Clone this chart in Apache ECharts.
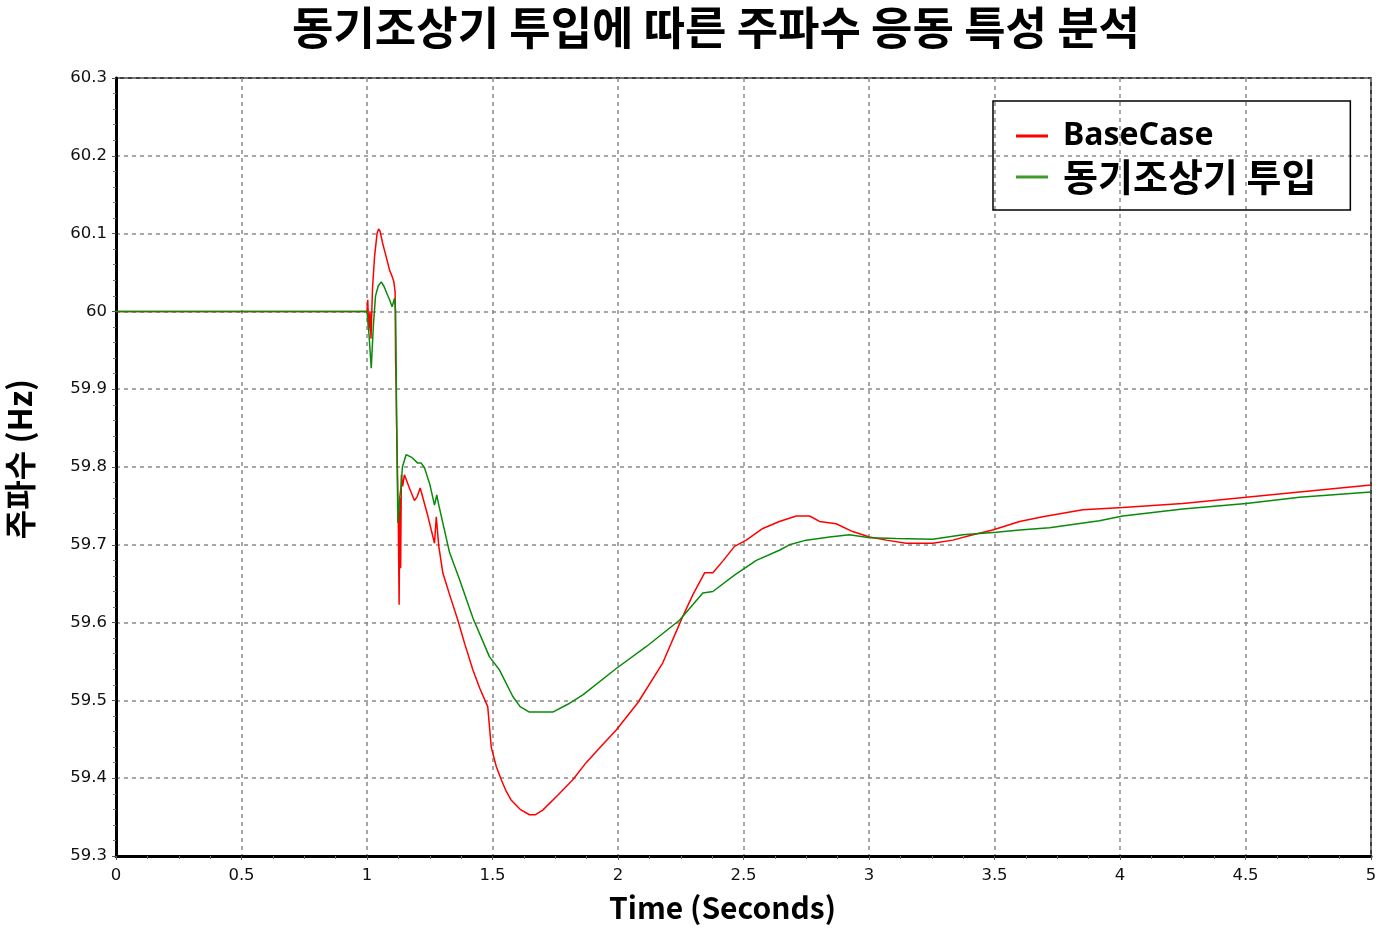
<!DOCTYPE html>
<html>
<head>
<meta charset="utf-8">
<script src="https://cdn.jsdelivr.net/npm/echarts@6/dist/echarts.min.js"></script>
<style>
html,body{margin:0;padding:0;background:#fff;}
#chart{width:1387px;height:931px;}
</style>
</head>
<body>
<div id="chart"></div>
<script>
// ---- data ----
var titleText = '동기조상기 투입에 따른 주파수 응동 특성 분석';
var xAxisTitle = 'Time (Seconds)';
var yAxisTitle = '주파수 (Hz)';
var seriesNames = ['BaseCase', '동기조상기 투입'];

var tRed = [0, 1.0, 1.003, 1.007, 1.012, 1.016, 1.022, 1.03, 1.04, 1.046, 1.052, 1.062, 1.075, 1.09, 1.1, 1.107, 1.112,
  1.114, 1.116, 1.118, 1.12, 1.122, 1.125, 1.128, 1.131, 1.134, 1.137, 1.142, 1.149, 1.17, 1.189, 1.2, 1.212, 1.24, 1.269, 1.276, 1.286,
  1.302, 1.33, 1.362, 1.39, 1.422, 1.45, 1.481, 1.495, 1.515, 1.535, 1.555, 1.574, 1.61, 1.647, 1.67, 1.7, 1.76, 1.82, 1.873,
  1.93, 1.993, 2.079, 2.178, 2.258, 2.3, 2.345, 2.378, 2.42, 2.464, 2.511, 2.577, 2.643, 2.71, 2.763, 2.803, 2.869,
  2.935, 3.002, 3.069, 3.148, 3.254, 3.334, 3.414, 3.493, 3.6, 3.692, 3.852, 4.011, 4.25, 4.503, 4.715, 5.0];
var fRed = [60.0, 60.0, 60.015, 59.975, 60.0, 59.965, 60.03, 60.07, 60.1, 60.106, 60.103, 60.088, 60.072, 60.053, 60.045, 60.038, 60.025,
  59.935, 59.908, 59.855, 59.82, 59.783, 59.72, 59.623, 59.76, 59.67, 59.79, 59.775, 59.79, 59.772, 59.757, 59.762, 59.773, 59.74, 59.702, 59.736, 59.698,
  59.664, 59.635, 59.603, 59.572, 59.539, 59.515, 59.492, 59.44, 59.415, 59.398, 59.383, 59.372, 59.36, 59.353, 59.353, 59.359, 59.378, 59.398, 59.42,
  59.44, 59.462, 59.497, 59.548, 59.608, 59.637, 59.664, 59.664, 59.68, 59.698, 59.706, 59.721, 59.73, 59.737, 59.737, 59.73, 59.727,
  59.717, 59.71, 59.706, 59.702, 59.702, 59.706, 59.713, 59.719, 59.73, 59.736, 59.745, 59.748, 59.753, 59.761, 59.768, 59.777];

var tGreen = [0, 1.0, 1.008, 1.017, 1.022, 1.026, 1.034, 1.045, 1.057, 1.068, 1.078, 1.09, 1.1, 1.11, 1.114, 1.118, 1.123, 1.13, 1.136,
  1.141, 1.156, 1.18, 1.202, 1.216, 1.229, 1.25, 1.269, 1.278, 1.286, 1.329, 1.369, 1.422, 1.488, 1.528, 1.581, 1.61, 1.647,
  1.74, 1.8, 1.86, 1.993, 2.112, 2.245, 2.338, 2.378, 2.464, 2.551, 2.643, 2.683, 2.75, 2.843, 2.922, 3.002, 3.108, 3.254,
  3.374, 3.507, 3.6, 3.719, 3.918, 4.011, 4.25, 4.503, 4.715, 5.0];
var fGreen = [60.0, 60.0, 59.97, 59.927, 59.96, 59.985, 60.02, 60.033, 60.038, 60.032, 60.024, 60.015, 60.006, 60.017, 60.0, 59.86, 59.728, 59.76, 59.775,
  59.8, 59.816, 59.812, 59.805, 59.805, 59.799, 59.778, 59.751, 59.764, 59.751, 59.69, 59.655, 59.606, 59.556, 59.539, 59.505, 59.492, 59.485,
  59.485, 59.495, 59.507, 59.541, 59.569, 59.603, 59.638, 59.64, 59.661, 59.68, 59.693, 59.7, 59.706, 59.71, 59.713, 59.709, 59.708, 59.707,
  59.713, 59.716, 59.719, 59.722, 59.731, 59.737, 59.746, 59.753, 59.761, 59.768];

function pairs(t, f) { return t.map(function (v, i) { return [v, f[i]]; }); }

var chart = echarts.init(document.getElementById('chart'), null, {renderer: 'canvas'});
var tickFont = {fontFamily: 'DejaVu Sans', fontSize: 16.5, color: '#111'};
var gridLine = {show: true, lineStyle: {color: '#8a8a8a', width: 1.5, type: [4, 4]}};

chart.setOption({
  animation: false,
  backgroundColor: '#fff',
  title: {
    text: titleText,
    left: 711, top: 0, textAlign: 'center',
    textStyle: {fontFamily: 'Noto Sans CJK KR', fontSize: 45, fontWeight: 'bold', color: '#000'}
  },
  legend: {
    orient: 'vertical',
    left: 993, top: 101,
    borderColor: '#000', borderWidth: 1.5, borderRadius: 0,
    padding: [19, 34, 14, 23],
    itemGap: 6,
    itemWidth: 32, itemHeight: 3,
    icon: 'rect',
    formatter: function (name) { return name === seriesNames[1] ? '{ko|' + name + '}' : '{en|' + name + '}'; },
    textStyle: {
      fontFamily: 'Noto Sans CJK KR', fontWeight: 'bold', color: '#000', padding: [0, 0, 0, 10],
      rich: {
        en: {fontFamily: 'Noto Sans', fontSize: 32, fontWeight: 'bold', color: '#000', lineHeight: 38},
        ko: {fontFamily: 'Noto Sans CJK KR', fontSize: 38, fontWeight: 'bold', color: '#000', lineHeight: 38}
      }
    },
    data: [
      {name: seriesNames[0], itemStyle: {color: '#ff0000'}},
      {name: seriesNames[1], itemStyle: {color: '#3f9a2a'}}
    ]
  },
  grid: {left: 116, right: 16, top: 78, bottom: 75, containLabel: false, outerBoundsMode: 'none',
    show: true, borderColor: '#000', borderWidth: 1.5, backgroundColor: 'transparent'},
  xAxis: {
    type: 'value', min: 0, max: 5, interval: 0.5,
    name: xAxisTitle, nameLocation: 'middle', nameGap: 37,
    nameTextStyle: {fontFamily: 'Noto Sans CJK KR', fontSize: 30, fontWeight: 'bold', color: '#000', padding: [0, 42, 0, 0]},
    axisLine: {show: true, onZero: false, lineStyle: {color: '#000', width: 3}},
    axisTick: {show: true, length: 4, lineStyle: {color: '#555'}},
    minorTick: {show: true, splitNumber: 4, length: 3, lineStyle: {color: '#777'}},
    axisLabel: Object.assign({margin: 11}, tickFont),
    splitLine: gridLine
  },
  yAxis: {
    type: 'value', min: 59.3, max: 60.3, interval: 0.1,
    name: yAxisTitle, nameLocation: 'middle', nameGap: 80,
    nameTextStyle: {fontFamily: 'Noto Sans CJK KR', fontSize: 32, fontWeight: 'bold', color: '#000', padding: [0, 0, 0, 16]},
    axisLine: {show: true, onZero: false, lineStyle: {color: '#000', width: 3}},
    axisTick: {show: true, length: 4, lineStyle: {color: '#555'}},
    minorTick: {show: true, splitNumber: 5, length: 3, lineStyle: {color: '#777'}},
    axisLabel: Object.assign({margin: 9, formatter: function (v) { return String(Math.round(v * 10) / 10); }}, tickFont),
    splitLine: gridLine
  },
  series: [
    {name: seriesNames[0], type: 'line', data: pairs(tRed, fRed), showSymbol: false, symbol: 'none',
      lineStyle: {color: '#ff0000', width: 1.5}, itemStyle: {color: '#ff0000'}},
    {name: seriesNames[1], type: 'line', data: pairs(tGreen, fGreen), showSymbol: false, symbol: 'none',
      lineStyle: {color: '#0a8a0a', width: 1.5}, itemStyle: {color: '#3f9a2a'}}
  ]
});
</script>
</body>
</html>
